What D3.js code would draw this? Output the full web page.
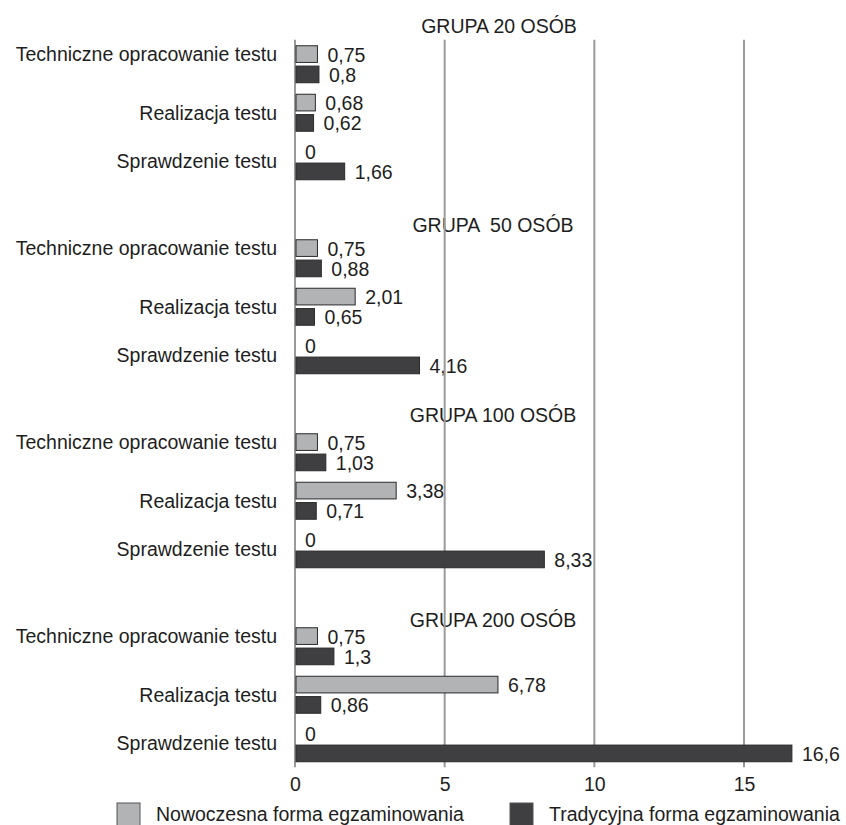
<!DOCTYPE html>
<html>
<head>
<meta charset="utf-8">
<script src="https://cdn.jsdelivr.net/npm/d3@7/dist/d3.min.js"></script>
<style>
  html, body { margin: 0; padding: 0; background: #ffffff; }
  svg { display: block; }
  text { font-family: "Liberation Sans", Arial, sans-serif; fill: #1e1e1e; white-space: pre; }
</style>
</head>
<body>
<svg id="chart" width="846" height="825"></svg>
<script>
// ---- data ----
const groups = ["GRUPA 20 OSÓB", "GRUPA  50 OSÓB", "GRUPA 100 OSÓB", "GRUPA 200 OSÓB"];
const categories = ["Techniczne opracowanie testu", "Realizacja testu", "Sprawdzenie testu"];
const seriesNames = ["Nowoczesna forma egzaminowania", "Tradycyjna forma egzaminowania"];
const nowoczesna = [
  [0.75, 0.68, 0],
  [0.75, 2.01, 0],
  [0.75, 3.38, 0],
  [0.75, 6.78, 0]
];
const tradycyjna = [
  [0.8, 0.62, 1.66],
  [0.88, 0.65, 4.16],
  [1.03, 0.71, 8.33],
  [1.3, 0.86, 16.6]
];
const xTicks = [0, 5, 10, 15];

// ---- layout ----
const colors = ["#b1b3b5", "#3f3f41"];
const fontSize = 19.5;
const titleLayout = [{dx: 6, dy: -38}, {dx: 0, dy: -33}, {dx: 0, dy: -37}, {dx: 0, dy: -26}];
const catLabelDy = [-10, 0, 0];

const svg = d3.select("#chart");
const plotTop = 39.75, plotBottom = 767.25;

// rows: 3 categories per group with a blank row between groups
const rows = [];
groups.forEach((g, gi) => {
  categories.forEach((c, ci) => rows.push(gi + "|" + ci));
  if (gi < groups.length - 1) rows.push(gi + "|blank");
});

const x = d3.scaleLinear().domain([0, 15]).range([295, 744]);
const y = d3.scaleBand().domain(rows).range([plotTop, plotBottom]).padding(0);
const ySub = d3.scaleBand().domain(seriesNames).range([6, 43]).paddingInner(0.18);

const seriesData = [nowoczesna, tradycyjna];
const bars = [];
groups.forEach((g, gi) => {
  categories.forEach((c, ci) => {
    seriesNames.forEach((s, si) => {
      bars.push({g: gi, c: ci, s: s, si: si, v: seriesData[si][gi][ci]});
    });
  });
});

const fmt = v => String(v).replace(".", ",");

// category labels
const labels = svg.append("g");
groups.forEach((g, gi) => {
  categories.forEach((c, ci) => {
    const key = gi + "|" + ci;
    labels.append("text")
      .attr("x", 277)
      .attr("y", y(key) + y.bandwidth() / 2 + 7 + catLabelDy[ci])
      .attr("text-anchor", "end")
      .attr("font-size", fontSize)
      .text(c);
  });
});

// group titles
const titles = svg.append("g");
groups.forEach((g, gi) => {
  const key = gi + "|0";
  titles.append("text")
    .attr("x", 493 + titleLayout[gi].dx)
    .attr("y", y(key) + y.bandwidth() / 2 + titleLayout[gi].dy + 7)
    .attr("text-anchor", "middle")
    .attr("font-size", fontSize)
    .text(g);
});

// value labels
svg.append("g").selectAll("text")
  .data(bars)
  .join("text")
  .attr("x", d => x(d.v) + 10)
  .attr("y", d => y(d.g + "|" + d.c) + ySub(d.s) + ySub.bandwidth() / 2 + 7.5)
  .attr("font-size", fontSize)
  .text(d => fmt(d.v));

// gridlines (including the zero axis line)
svg.append("g").selectAll("line")
  .data(xTicks)
  .join("line")
  .attr("x1", d => x(d)).attr("x2", d => x(d))
  .attr("y1", plotTop).attr("y2", plotBottom)
  .attr("stroke", "#9a9a9a")
  .attr("stroke-width", 2);

// bars
svg.append("g").selectAll("rect")
  .data(bars)
  .join("rect")
  .attr("x", x(0) + 1)
  .attr("y", d => y(d.g + "|" + d.c) + ySub(d.s))
  .attr("width", d => Math.max(0, x(d.v) - x(0) - 1))
  .attr("height", ySub.bandwidth())
  .attr("fill", d => colors[d.si])
  .attr("stroke", d => d.v > 0 ? "#2a2a2a" : "none")
  .attr("stroke-width", 1);

// x axis tick labels
const axis = d3.axisBottom(x).tickValues(xTicks).tickSize(0).tickPadding(0).tickFormat(d3.format("d"));
const axisG = svg.append("g").attr("transform", "translate(0," + 776 + ")").call(axis);
axisG.select(".domain").remove();
axisG.selectAll("text")
  .attr("font-size", fontSize)
  .attr("font-family", "Liberation Sans, Arial, sans-serif")
  .attr("fill", "#1e1e1e")
  .attr("dy", "0.75em");

// legend
const legendX = [117, 510];
const legend = svg.append("g");
seriesNames.forEach((s, i) => {
  legend.append("rect")
    .attr("x", legendX[i]).attr("y", 803)
    .attr("width", 23).attr("height", 23)
    .attr("fill", colors[i])
    .attr("stroke", "#555").attr("stroke-width", 1);
  legend.append("text")
    .attr("x", legendX[i] + 39)
    .attr("y", 821)
    .attr("font-size", fontSize)
    .text(s);
});
</script>
</body>
</html>
